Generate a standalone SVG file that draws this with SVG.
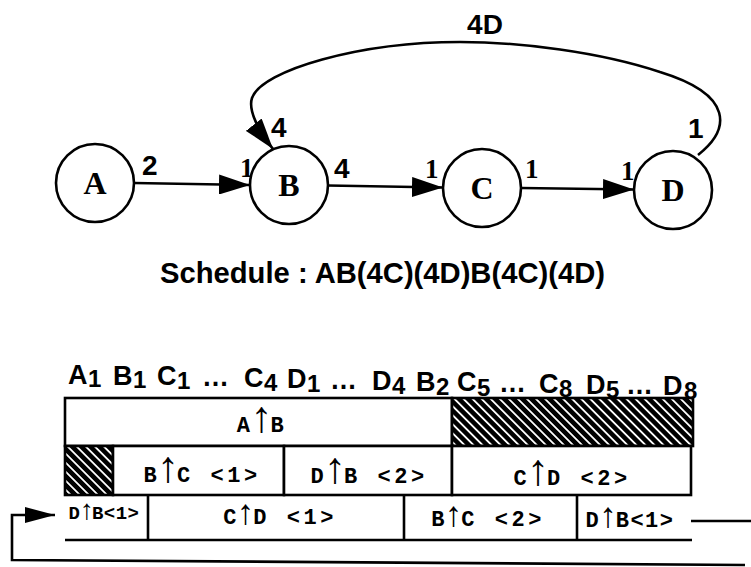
<svg xmlns="http://www.w3.org/2000/svg" width="751" height="567" viewBox="0 0 751 567">
<defs>
<style>
.node circle{fill:#fff;stroke:#000;stroke-width:2.6}
.nl{font-family:"Liberation Serif","Times New Roman",serif;font-weight:bold;font-size:32px;text-anchor:middle;fill:#000}
.lbs{font-family:"Liberation Sans",Arial,sans-serif;font-weight:bold;font-size:28px;fill:#000}
.lbr{font-family:"Liberation Serif","Times New Roman",serif;font-weight:bold;font-size:27px;fill:#000}
.edge{fill:none;stroke:#000;stroke-width:2.6}
.hdr{font-family:"Liberation Sans",Arial,sans-serif;font-weight:bold;font-size:27px;fill:#000}
.sub{font-size:24px}
.cell{fill:#fff;stroke:#000;stroke-width:2.6}
.hat{fill:url(#hatch);stroke:#000;stroke-width:2.6}
.ln{fill:none;stroke:#000;stroke-width:2.6}
.mt{font-family:"Liberation Mono","Courier New",monospace;font-weight:bold;font-size:22px;text-anchor:middle;letter-spacing:3.5px;fill:#000}
.ms{font-family:"Liberation Mono","Courier New",monospace;font-weight:bold;font-size:19px;text-anchor:middle;letter-spacing:0.5px;fill:#000}
.f{letter-spacing:0.5px}
.ar{font-family:"Liberation Sans",Arial,sans-serif;font-weight:bold;font-size:44px;letter-spacing:-2px}
.ar3{font-family:"Liberation Sans",Arial,sans-serif;font-weight:bold;font-size:35px;letter-spacing:-1px}
.ar2{font-family:"Liberation Sans",Arial,sans-serif;font-weight:bold;font-size:28px;letter-spacing:-2px}
</style>
<marker id="ah" markerUnits="userSpaceOnUse" markerWidth="32" markerHeight="20" refX="31" refY="10" orient="auto">
<path d="M0,0 L31,10 L0,20 z" fill="#000"/>
</marker>
<marker id="ah2" markerUnits="userSpaceOnUse" markerWidth="31" markerHeight="16" refX="30" refY="8" orient="auto">
<path d="M0,0 L30,8 L0,16 z" fill="#000"/>
</marker>
<pattern id="hatch" patternUnits="userSpaceOnUse" width="6.4" height="6.4" patternTransform="rotate(-45)">
<rect width="6.4" height="6.4" fill="#000"/>
<rect width="1.8" height="6.4" fill="#fff"/>
</pattern>
</defs>
<rect width="751" height="567" fill="#fff"/>

<g id="connectors">
<line class="edge" x1="134" y1="183" x2="250" y2="185" marker-end="url(#ah)"/>
<line class="edge" x1="328" y1="185.5" x2="443" y2="187.5" marker-end="url(#ah)"/>
<line class="edge" x1="521" y1="188" x2="634" y2="189.5" marker-end="url(#ah)"/>
<path class="edge" d="M698 155 C730 130,735 95,660 72 C600 52,520 42,460 42 C360 42,262 70,252 98 C248 110,258 130,273 149" marker-end="url(#ah)"/>
<text class="lbs" x="142" y="175">2</text>
<text class="lbr" x="240" y="177">1</text>
<text class="lbs" x="334" y="178">4</text>
<text class="lbs" x="271" y="137">4</text>
<text class="lbr" x="425" y="178">1</text>
<text class="lbr" x="525" y="178">1</text>
<text class="lbr" x="621" y="180">1</text>
<text class="lbs" x="688" y="138">1</text>
<text class="lbs" x="485" y="34" text-anchor="middle">4D</text>
</g>

<g id="node-A" class="node"><circle cx="95" cy="183" r="39"/><text class="nl" x="95" y="194">A</text></g>
<g id="node-B" class="node"><circle cx="289" cy="185" r="39"/><text class="nl" x="289" y="196">B</text></g>
<g id="node-C" class="node"><circle cx="482" cy="188" r="39"/><text class="nl" x="482" y="199">C</text></g>
<g id="node-D" class="node"><circle cx="673" cy="190" r="39"/><text class="nl" x="673" y="201">D</text></g>

<text id="schedule" x="160" y="283" font-family="Liberation Sans, Arial, sans-serif" font-weight="bold" font-size="30" textLength="445" lengthAdjust="spacingAndGlyphs" fill="#000">Schedule : AB(4C)(4D)B(4C)(4D)</text>

<text id="header" class="hdr"><tspan x="68" y="384">A</tspan><tspan class="sub" x="88" y="387">1</tspan><tspan x="113" y="385">B</tspan><tspan class="sub" x="133" y="388">1</tspan><tspan x="157" y="385">C</tspan><tspan class="sub" x="177" y="389">1</tspan><tspan x="202" y="386">…</tspan><tspan x="244" y="387">C</tspan><tspan class="sub" x="264" y="391">4</tspan><tspan x="287" y="388">D</tspan><tspan class="sub" x="307" y="392">1</tspan><tspan x="330" y="389">…</tspan><tspan x="372" y="390">D</tspan><tspan class="sub" x="392" y="394">4</tspan><tspan x="416" y="391">B</tspan><tspan class="sub" x="436" y="395">2</tspan><tspan x="457" y="391">C</tspan><tspan class="sub" x="477" y="396">5</tspan><tspan x="499" y="392">…</tspan><tspan x="539" y="393">C</tspan><tspan class="sub" x="559" y="397">8</tspan><tspan x="586" y="394">D</tspan><tspan class="sub" x="606" y="398">5</tspan><tspan x="626" y="394">…</tspan><tspan x="663" y="395">D</tspan><tspan class="sub" x="684" y="399">8</tspan></text>

<g id="buffer-row1">
<rect class="cell" x="65" y="398" width="387" height="48"/>
<rect class="hat" x="452" y="398" width="241" height="48"/>
<text class="mt" x="262" y="432"><tspan class="f">A</tspan><tspan class="ar">↑</tspan>B</text>
</g>
<g id="buffer-row2">
<rect class="hat" x="65" y="446" width="48" height="49"/>
<rect class="cell" x="113" y="446" width="171" height="49"/>
<rect class="cell" x="284" y="446" width="168" height="49"/>
<rect class="cell" x="452" y="446" width="239" height="49"/>
<text class="mt" x="202" y="482"><tspan class="f">B</tspan><tspan class="ar">↑</tspan>C &lt;1&gt;</text>
<text class="mt" x="369" y="483"><tspan class="f">D</tspan><tspan class="ar">↑</tspan>B &lt;2&gt;</text>
<text class="mt" x="572" y="485"><tspan class="f">C</tspan><tspan class="ar">↑</tspan>D &lt;2&gt;</text>
</g>
<g id="buffer-row3">
<line class="ln" x1="65" y1="540" x2="692" y2="540"/>
<line class="ln" x1="148" y1="495" x2="148" y2="540"/>
<line class="ln" x1="404" y1="495" x2="404" y2="540"/>
<line class="ln" x1="577" y1="495" x2="577" y2="540"/>
<text class="ms" x="104" y="519"><tspan style="letter-spacing:0">D</tspan><tspan class="ar2">↑</tspan>B&lt;1&gt;</text>
<text class="mt" x="280" y="524"><tspan class="f">C</tspan><tspan class="ar3">↑</tspan>D &lt;1&gt;</text>
<text class="mt" x="488" y="526"><tspan class="f">B</tspan><tspan class="ar3">↑</tspan>C &lt;2&gt;</text>
<text class="mt" x="630" y="527" style="letter-spacing:1.5px"><tspan class="f">D</tspan><tspan class="ar3">↑</tspan>B&lt;1&gt;</text>
</g>
<g id="feedback">
<line class="ln" x1="691" y1="521" x2="751" y2="521"/>
<path class="ln" d="M745 565 L12 560 L12 515 L55 515" marker-end="url(#ah2)"/>
</g>
</svg>
